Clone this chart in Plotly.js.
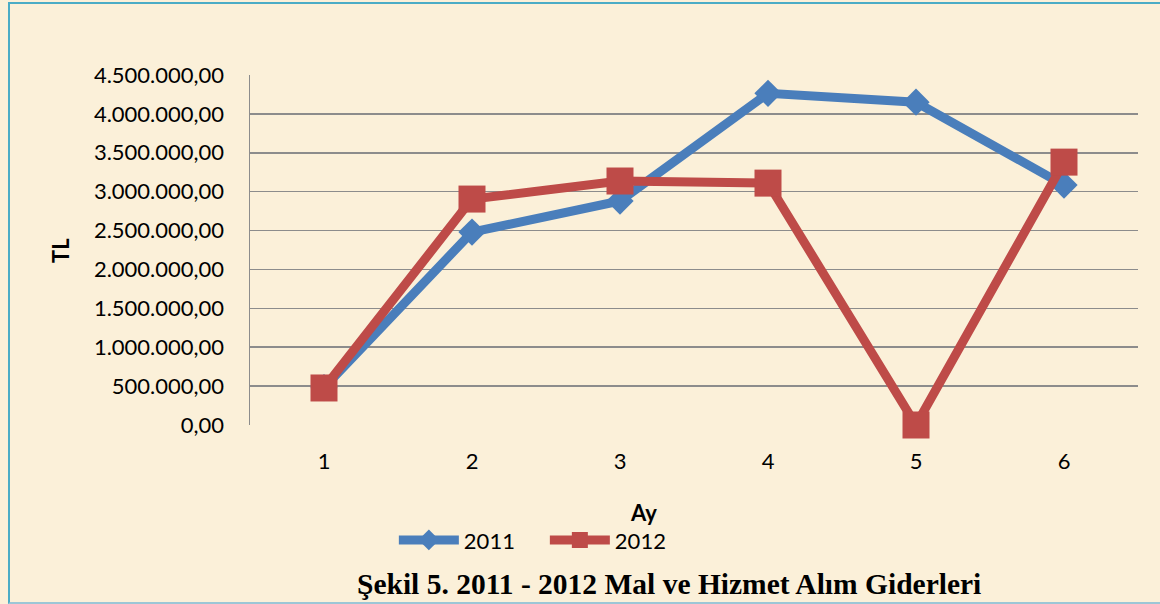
<!DOCTYPE html>
<html><head><meta charset="utf-8">
<script src="https://cdn.plot.ly/plotly-3.0.1.min.js"></script>
<style>
html,body{margin:0;padding:0;background:#ffffff;}
#wrap{position:absolute;left:0;top:0;width:1160px;height:604px;}
#frame{position:absolute;left:8px;top:2px;width:1160px;height:598px;border-left:2px solid #4BACC6;border-top:2px solid #4BACC6;border-bottom:2px solid #9CC6D6;pointer-events:none;}
#chart{position:absolute;left:0;top:0;width:1160px;height:604px;}
</style></head>
<body>
<div id="wrap"><div id="chart"></div><div id="frame"></div></div>
<script>
const months = ['1','2','3','4','5','6'];
const series2011 = [480000, 2480000, 2880000, 4265000, 4150000, 3085000];
const series2012 = [476000, 2905000, 3137000, 3110000, 0, 3380000];
const yTitle = 'TL';
const xTitle = 'Ay';
const chartTitle = 'Şekil 5. 2011 - 2012 Mal ve Hizmet Alım Giderleri';

const sansFam = 'Lato, "Liberation Sans", sans-serif';
const tickFont = {family:sansFam, size:22, color:'#000'};

const traces = [
  {x: months, y: series2011, name:'2011', type:'scatter', mode:'lines+markers', cliponaxis:false,
   line:{color:'#4A7EBB', width:9}, marker:{symbol:'diamond', size:21, color:'#4A7EBB'}},
  {x: months, y: series2012, name:'2012', type:'scatter', mode:'lines+markers', cliponaxis:false,
   line:{color:'#BE4B48', width:9}, marker:{symbol:'square', size:27, color:'#BE4B48'}}
];

const layout = {
  width:1160, height:604,
  paper_bgcolor:'#FBF0D9', plot_bgcolor:'#FBF0D9',
  margin:{l:250, r:22, t:75, b:179},
  separators:',.',
  showlegend:true,
  legend:{orientation:'h', x:0.162, xanchor:'left', y:-0.329, yanchor:'middle',
          font:tickFont, bgcolor:'rgba(0,0,0,0)', itemwidth:60, entrywidth:76, tracegroupgap:0},
  xaxis:{type:'category', range:[-0.5,5.5], showgrid:false, zeroline:false, showline:false,
         tickfont:tickFont, ticks:'', ticklabelstandoff:21, fixedrange:true},
  yaxis:{range:[0,4500000], dtick:500000, tickformat:',.2f', tickfont:tickFont,
         showgrid:true, gridcolor:'#8C8C8C', gridwidth:1.5, zeroline:false,
         showline:true, linecolor:'#8C8C8C', linewidth:1.5, ticks:'', ticklabelstandoff:20},
  annotations:[
    {text:'<b>'+yTitle+'</b>', xref:'paper', yref:'paper', x:-0.214, y:0.5, xanchor:'center', yanchor:'middle', showarrow:false,
     textangle:-90, font:{family:sansFam, size:22, color:'#000'}},
    {text:'<b>'+xTitle+'</b>', xref:'paper', yref:'paper', x:0.443, y:-0.251, xanchor:'center', yanchor:'middle', showarrow:false,
     font:{family:sansFam, size:22, color:'#000'}},
    {text:'<b>'+chartTitle+'</b>', xref:'paper', yref:'paper', x:0.472, y:-0.454, xanchor:'center', yanchor:'middle', showarrow:false,
     font:{family:'"Liberation Serif", "Times New Roman", serif', size:29.5, color:'#000'}}
  ]
};

Plotly.newPlot('chart', traces, layout, {displayModeBar:false, staticPlot:true});
</script>
</body></html>
